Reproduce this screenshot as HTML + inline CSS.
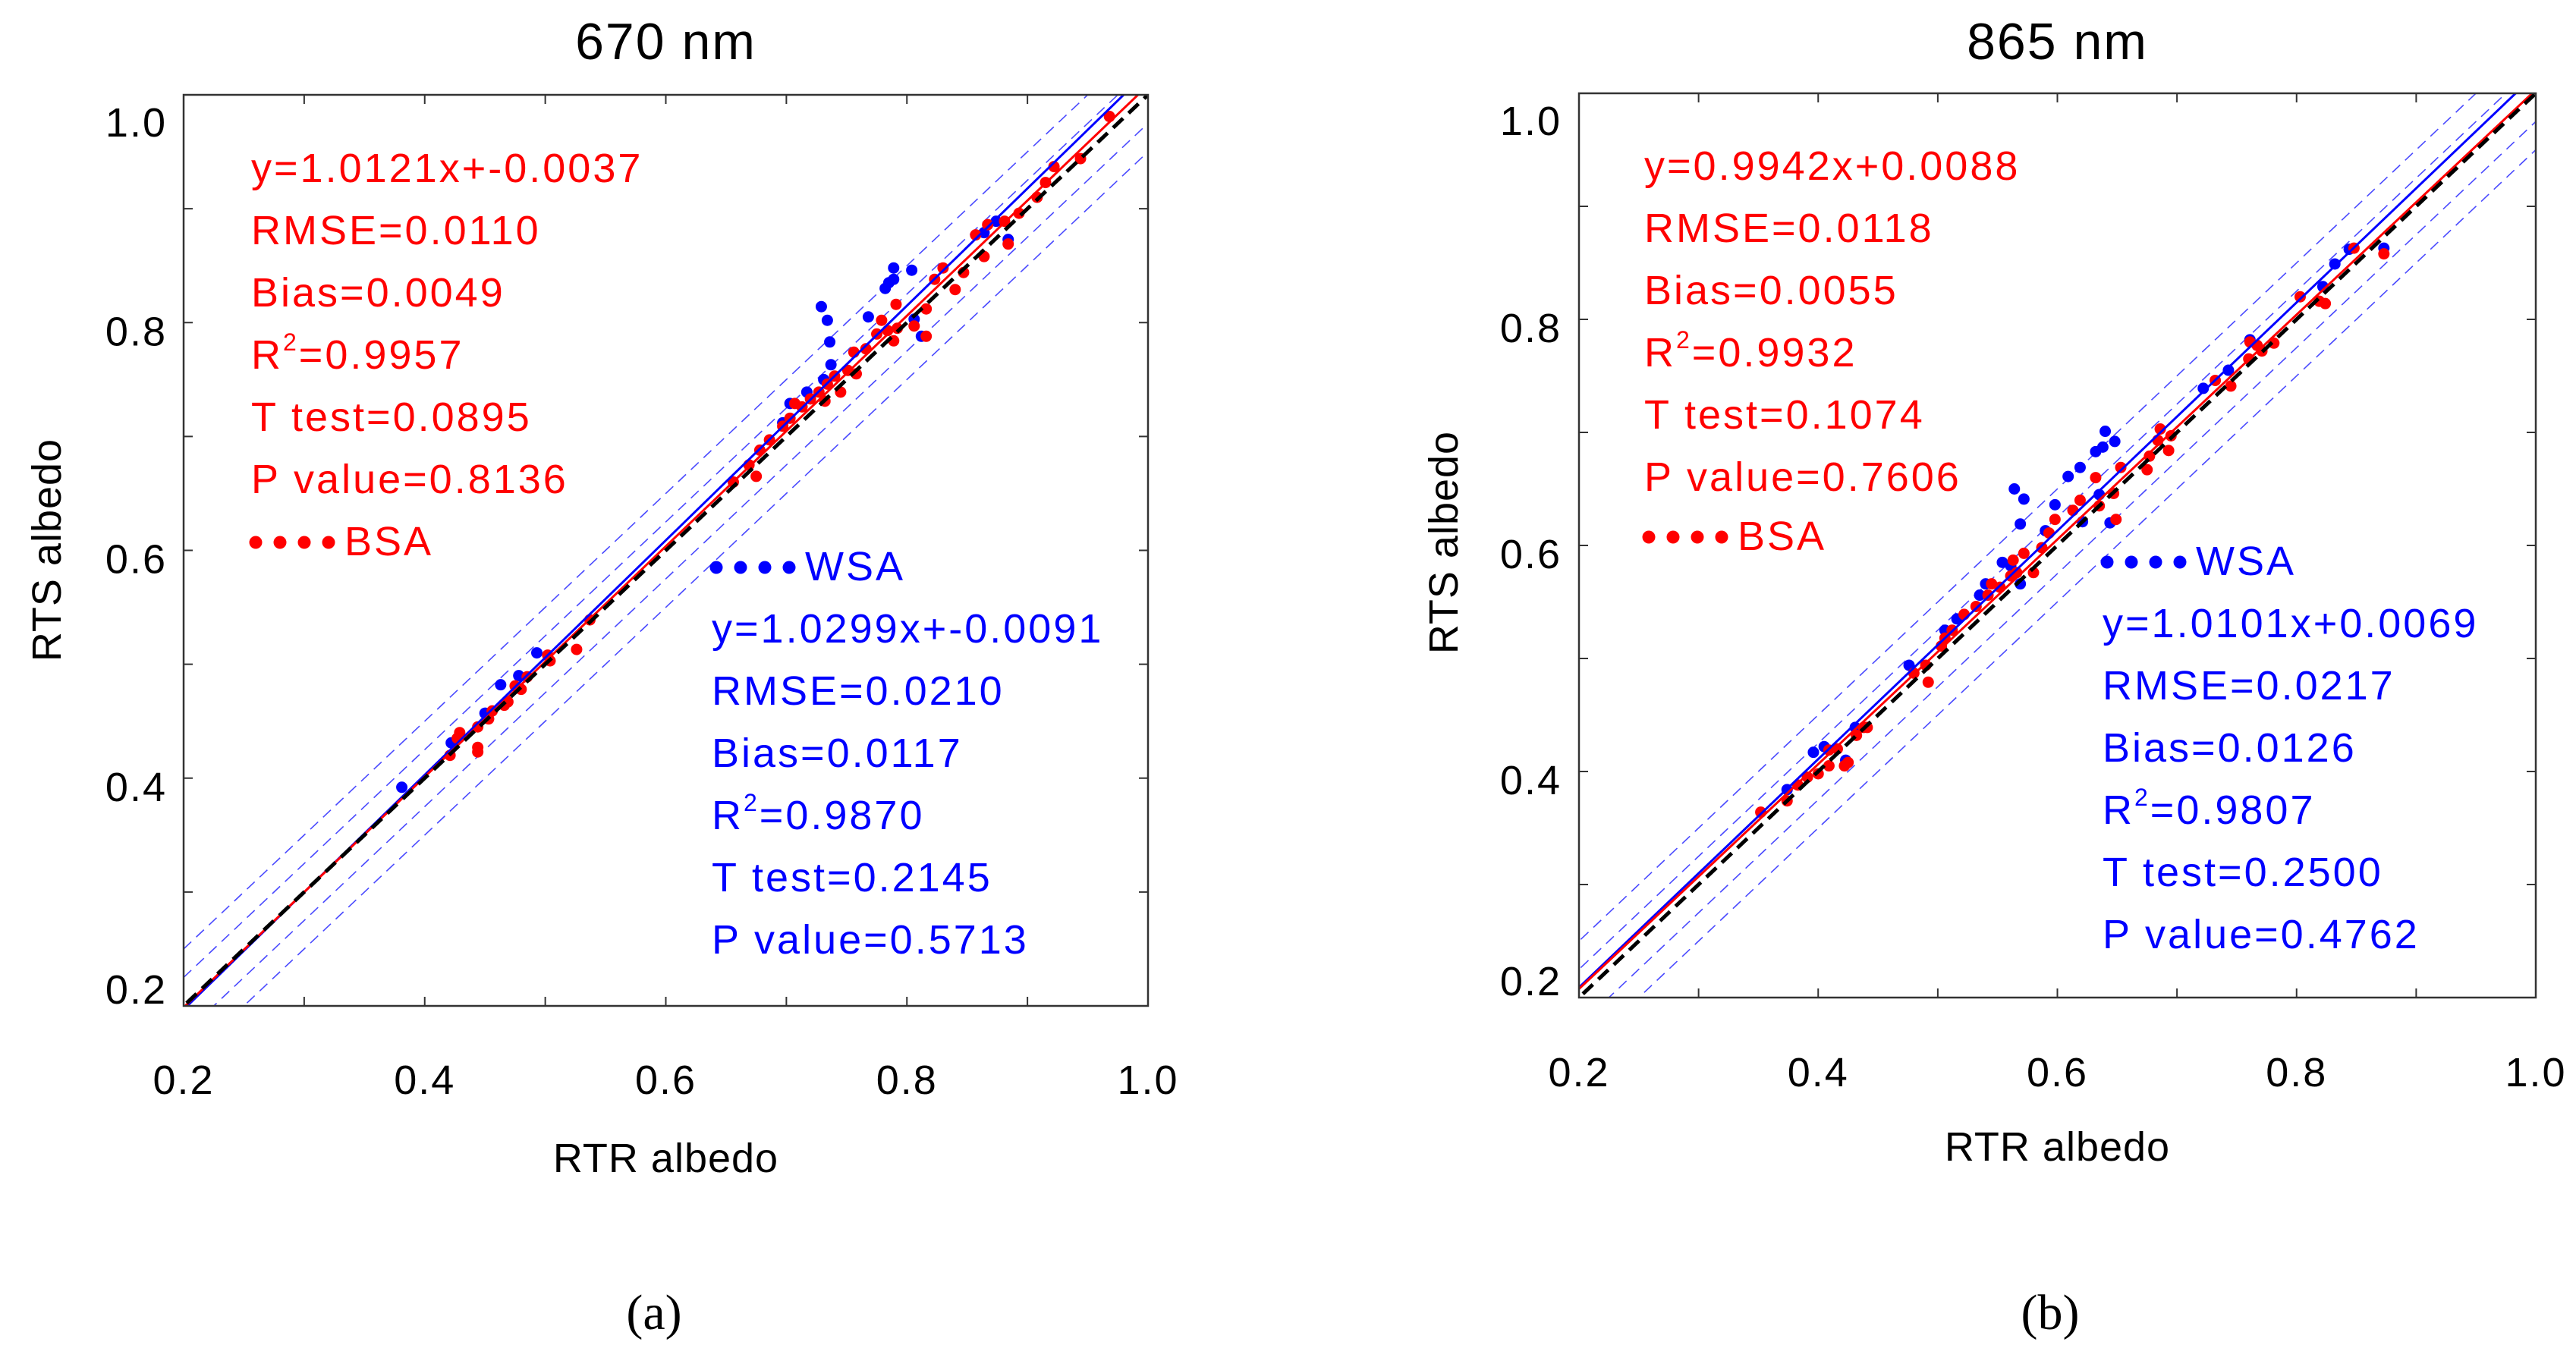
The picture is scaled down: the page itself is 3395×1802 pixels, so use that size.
<!DOCTYPE html>
<html><head><meta charset="utf-8"><style>
html,body{margin:0;padding:0;background:#fff;}
svg{display:block;font-family:"Liberation Sans",Arial,sans-serif;}
</style></head><body>
<svg id="chart" width="3395" height="1802" viewBox="0 0 3395 1802" xmlns="http://www.w3.org/2000/svg">
<rect width="3395" height="1802" fill="#fff"/>
</svg>
<script>
// ---- data ----
const ticks = [0.2, 0.4, 0.6, 0.8, 1.0];
const tickLabels = ["0.2", "0.4", "0.6", "0.8", "1.0"];
const minorTicks = [0.3, 0.5, 0.7, 0.9];

const wsaA_x = [0.729,0.734,0.736,0.737,0.768,0.782,0.785,0.789,0.789,0.804,0.806,0.812,0.874,0.864,0.884,0.381,0.463,0.450,0.493,0.478,0.422,0.717,0.703,0.697,0.731];
const wsaA_y = [0.814,0.802,0.783,0.763,0.805,0.830,0.835,0.848,0.838,0.846,0.803,0.788,0.889,0.879,0.873,0.392,0.482,0.457,0.510,0.490,0.431,0.739,0.729,0.712,0.750];
const bsaA_x = [0.421,0.429,0.427,0.444,0.444,0.444,0.453,0.456,0.466,0.469,0.475,0.480,0.485,0.502,0.504,0.526,0.537,0.656,0.669,0.675,0.678,0.686,0.697,0.703,0.707,0.713,0.720,0.727,0.732,0.734,0.740,0.745,0.751,0.756,0.758,0.766,0.775,0.779,0.784,0.789,0.791,0.792,0.806,0.816,0.816,0.823,0.830,0.840,0.847,0.857,0.864,0.867,0.881,0.884,0.893,0.908,0.915,0.922,0.944,0.968];
const bsaA_y = [0.420,0.440,0.435,0.445,0.427,0.423,0.452,0.459,0.464,0.467,0.481,0.478,0.489,0.508,0.503,0.513,0.539,0.660,0.675,0.665,0.688,0.697,0.709,0.716,0.729,0.726,0.733,0.739,0.731,0.746,0.753,0.739,0.758,0.774,0.755,0.777,0.790,0.802,0.793,0.784,0.816,0.795,0.797,0.812,0.788,0.838,0.848,0.829,0.844,0.877,0.858,0.886,0.889,0.869,0.896,0.910,0.923,0.937,0.944,0.981];

const wsaB_x = [0.564,0.572,0.569,0.569,0.598,0.609,0.619,0.632,0.640,0.648,0.638,0.621,0.644,0.554,0.561,0.540,0.535,0.516,0.506,0.476,0.396,0.405,0.423,0.431,0.374,0.722,0.743,0.761,0.832,0.844,0.822,0.873,0.635,0.590];
const wsaB_y = [0.650,0.641,0.619,0.566,0.636,0.661,0.669,0.683,0.701,0.692,0.687,0.621,0.620,0.585,0.582,0.566,0.556,0.535,0.525,0.494,0.417,0.422,0.410,0.439,0.384,0.739,0.755,0.782,0.849,0.862,0.829,0.863,0.645,0.613];
const bsaB_x = [0.352,0.374,0.383,0.391,0.400,0.409,0.409,0.416,0.422,0.425,0.432,0.438,0.441,0.480,0.490,0.492,0.503,0.506,0.512,0.522,0.532,0.542,0.545,0.552,0.561,0.566,0.572,0.563,0.580,0.587,0.593,0.598,0.613,0.619,0.632,0.635,0.647,0.649,0.653,0.675,0.677,0.684,0.686,0.693,0.695,0.732,0.745,0.760,0.767,0.781,0.771,0.761,0.803,0.819,0.824,0.848,0.873];
const bsaB_y = [0.364,0.374,0.388,0.395,0.398,0.405,0.419,0.420,0.405,0.408,0.432,0.439,0.439,0.487,0.494,0.479,0.511,0.518,0.525,0.539,0.546,0.556,0.566,0.563,0.573,0.576,0.593,0.587,0.576,0.598,0.611,0.623,0.631,0.640,0.660,0.635,0.646,0.623,0.669,0.667,0.679,0.693,0.703,0.684,0.697,0.746,0.741,0.765,0.777,0.779,0.772,0.780,0.820,0.816,0.814,0.863,0.858];

const fitA_bsa = [1.0121, -0.0037];
const fitA_wsa = [1.0299, -0.0091];
const fitB_bsa = [0.9942, 0.0088];
const fitB_wsa = [1.0101, 0.0069];
const bandOffsets = [-0.05, -0.025, 0.025, 0.05];

const statsA_bsa = ["y=1.0121x+-0.0037","RMSE=0.0110","Bias=0.0049","R2|=0.9957","T test=0.0895","P value=0.8136"];
const statsA_wsa = ["y=1.0299x+-0.0091","RMSE=0.0210","Bias=0.0117","R2|=0.9870","T test=0.2145","P value=0.5713"];
const statsB_bsa = ["y=0.9942x+0.0088","RMSE=0.0118","Bias=0.0055","R2|=0.9932","T test=0.1074","P value=0.7606"];
const statsB_wsa = ["y=1.0101x+0.0069","RMSE=0.0217","Bias=0.0126","R2|=0.9807","T test=0.2500","P value=0.4762"];

// ---- drawing ----
const NS = "http://www.w3.org/2000/svg";
const svg = document.getElementById('chart');
function mk(tag, attrs, parent) {
  const e = document.createElementNS(NS, tag);
  for (const k in attrs) e.setAttribute(k, attrs[k]);
  (parent || svg).appendChild(e);
  return e;
}

const panels = [
  {id:'a', L:242, R:1513, T:125, B:1326, title:'670 nm', cap:'(a)', capX:862,
   wx:wsaA_x, wy:wsaA_y, bx:bsaA_x, by:bsaA_y, fb:fitA_bsa, fw:fitA_wsa, sb:statsA_bsa, sw:statsA_wsa,
   ylabRight:220, ylabX:80, ylabY:725, xlabBase:1545, xtickBase:1442, redX:331, redBase:240, bsaBase:732,
   blueX:938, wsaBase:765, blueBase:847},
  {id:'b', L:2081, R:3342, T:123, B:1315, title:'865 nm', cap:'(b)', capX:2702,
   wx:wsaB_x, wy:wsaB_y, bx:bsaB_x, by:bsaB_y, fb:fitB_bsa, fw:fitB_wsa, sb:statsB_bsa, sw:statsB_wsa,
   ylabRight:2058, ylabX:1921, ylabY:715, xlabBase:1530, xtickBase:1432, redX:2167, redBase:237, bsaBase:725,
   blueX:2771, wsaBase:758, blueBase:840}
];

panels.forEach(p => {
  const g = mk('g', {});
  
  
  const sx = v => p.L + (v - 0.2) / 0.8 * (p.R - p.L);
  const sy = v => p.B - (v - 0.2) / 0.8 * (p.B - p.T);

  const cp = mk('clipPath', {id:'clip-' + p.id}, g);
  mk('rect', {x:p.L, y:p.T, width:p.R - p.L, height:p.B - p.T}, cp);
  const plot = mk('g', {'clip-path':'url(#clip-' + p.id + ')'}, g);
  
  

  bandOffsets.forEach(o => {
    const l = mk('line', {x1:sx(0.0), y1:sy(0.0 + o), x2:sx(1.2), y2:sy(1.2 + o), stroke:'#4a4aff', 'stroke-width':1.6, 'stroke-dasharray':'14 9'}, plot);
    
    
  });
  p.wx.forEach((x, i) => {
    const c = mk('circle', {cx:sx(x), cy:sy(p.wy[i]), r:7.5, fill:'#0000ff'}, plot);
    
    
  });
  p.bx.forEach((x, i) => {
    const c = mk('circle', {cx:sx(x), cy:sy(p.by[i]), r:7.5, fill:'#ff0000'}, plot);
    
    
  });
  const fwl = mk('line', {x1:sx(0.1), y1:sy(p.fw[0]*0.1 + p.fw[1]), x2:sx(1.1), y2:sy(p.fw[0]*1.1 + p.fw[1]), stroke:'#0000ff', 'stroke-width':3}, plot);
  
  
  const fbl = mk('line', {x1:sx(0.1), y1:sy(p.fb[0]*0.1 + p.fb[1]), x2:sx(1.1), y2:sy(p.fb[0]*1.1 + p.fb[1]), stroke:'#ff0000', 'stroke-width':3}, plot);
  
  
  const one = mk('line', {x1:sx(0.1), y1:sy(0.1), x2:sx(1.1), y2:sy(1.1), stroke:'#000', 'stroke-width':5, 'stroke-dasharray':'18 10'}, plot);
  
  

  const fr = mk('rect', {x:p.L, y:p.T, width:p.R - p.L, height:p.B - p.T, fill:'none', stroke:'#333', 'stroke-width':2.5}, g);
  
  

  ticks.concat(minorTicks).forEach(v => {
    const X = sx(v), Y = sy(v);
    mk('line', {x1:X, y1:p.B, x2:X, y2:p.B - 12, stroke:'#333', 'stroke-width':2}, g);
    mk('line', {x1:X, y1:p.T, x2:X, y2:p.T + 12, stroke:'#333', 'stroke-width':2}, g);
    mk('line', {x1:p.L, y1:Y, x2:p.L + 12, y2:Y, stroke:'#333', 'stroke-width':2}, g);
    mk('line', {x1:p.R, y1:Y, x2:p.R - 12, y2:Y, stroke:'#333', 'stroke-width':2}, g);
  });
  ticks.forEach((v, i) => {
    const t = mk('text', {x:sx(v), y:p.xtickBase, 'text-anchor':'middle', 'font-size':54, 'letter-spacing':2, fill:'#000'}, g);
    t.textContent = tickLabels[i];
    
    
    let yb = sy(v) + 30;
    if (i === 0) yb = p.B - 3;
    if (i === ticks.length - 1) yb = p.T + 55;
    const u = mk('text', {x:p.ylabRight, y:yb, 'text-anchor':'end', 'font-size':54, 'letter-spacing':2, fill:'#000'}, g);
    u.textContent = tickLabels[i];
    
    
  });

  const tt = mk('text', {x:(p.L + p.R)/2, y:78, 'text-anchor':'middle', 'font-size':68, 'letter-spacing':2, fill:'#000'}, g);
  tt.textContent = p.title;
  
  
  const xt = mk('text', {x:(p.L + p.R)/2, y:p.xlabBase, 'text-anchor':'middle', 'font-size':54, 'letter-spacing':1, fill:'#000'}, g);
  xt.textContent = 'RTR albedo';
  
  
  const yt = mk('text', {x:0, y:0, 'text-anchor':'middle', 'font-size':54, 'letter-spacing':1, fill:'#000', transform:'translate(' + p.ylabX + ',' + p.ylabY + ') rotate(-90)'}, g);
  yt.textContent = 'RTS albedo';
  
  
  const ct = mk('text', {x:p.capX, y:1752, 'text-anchor':'middle', 'font-size':66, fill:'#000', 'font-family':'"Liberation Serif",serif'}, g);
  ct.textContent = p.cap;
  
  

  function stats(lines, x, base, color, name) {
    lines.forEach((s, i) => {
      const t = mk('text', {x:x, y:base + i * 82, 'font-size':54, 'letter-spacing':3, fill:color}, g);
      if (s.indexOf('|') >= 0) {
        const parts = s.split('|');
        const a = mk('tspan', {}, t); a.textContent = 'R';
        const b = mk('tspan', {'font-size':32, dy:-24}, t); b.textContent = '2';
        const c = mk('tspan', {dy:24}, t); c.textContent = parts[1];
      } else {
        t.textContent = s;
      }
      
      
    });
  }
  stats(p.sb, p.redX, p.redBase, '#ff0000', 'bsa-stats-line');
  stats(p.sw, p.blueX, p.blueBase, '#0000ff', 'wsa-stats-line');

  function legend(x, base, color, label, name) {
    const lg = mk('g', {}, g);
    
    
    for (let k = 0; k < 4; k++) mk('circle', {cx:x + 6 + k * 32, cy:base - 17, r:8.5, fill:color}, lg);
    const t = mk('text', {x:x + 123, y:base, 'font-size':54, 'letter-spacing':3, fill:color}, lg);
    t.textContent = label;
  }
  legend(p.redX, p.bsaBase, '#ff0000', 'BSA', 'bsa-legend-entry');
  legend(p.blueX, p.wsaBase, '#0000ff', 'WSA', 'wsa-legend-entry');
});
</script>
</body></html>
